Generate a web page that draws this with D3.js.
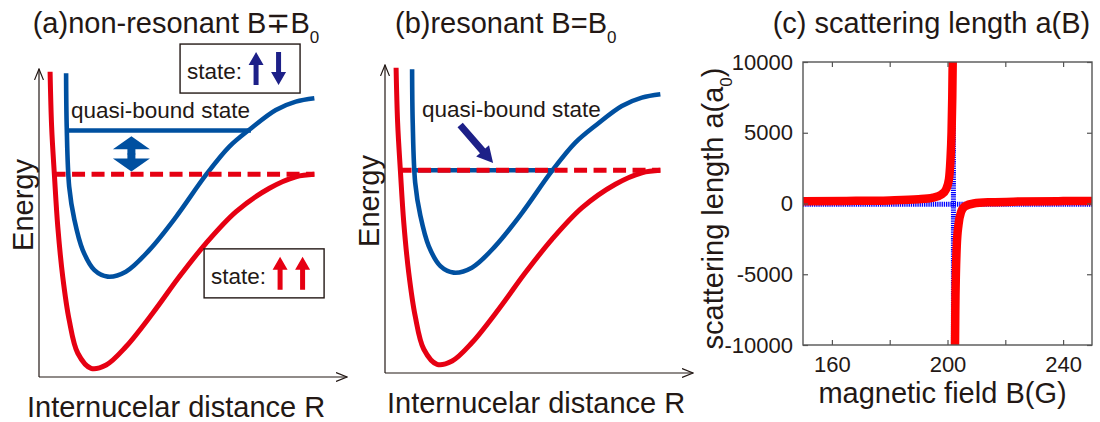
<!DOCTYPE html>
<html>
<head>
<meta charset="utf-8">
<script src="https://cdn.jsdelivr.net/npm/d3@7"></script>
<style>
  body { margin: 0; background: #fff; }
  svg { display: block; }
  text { font-family: "Liberation Sans", Arial, sans-serif; fill: #231815; }
</style>
</head>
<body>
<div id="plot"></div>
<script>
// ---- panels (a) and (b): potential curves, R and E in arbitrary units 0..10
const openR   = [0.36, 0.41, 0.50, 0.61, 0.77, 0.98, 1.26, 1.69, 2.18, 2.82, 3.69, 4.56, 5.42, 6.40, 7.48, 8.34, 8.94];
const openE   = [9.91, 8.13, 6.56, 4.88, 3.26, 1.85, 0.77, 0.28, 0.39, 0.98, 2.07, 3.26, 4.34, 5.37, 6.13, 6.50, 6.58];
const closedR = [0.88, 0.90, 0.98, 1.15, 1.42, 1.80, 2.23, 2.82, 3.58, 4.45, 5.42, 6.18, 6.88, 7.69, 8.34, 8.94];
const closedE = [9.86, 8.13, 6.18, 5.10, 4.12, 3.47, 3.26, 3.42, 4.12, 5.20, 6.56, 7.48, 8.07, 8.67, 8.94, 9.05];

const thresholdE = 6.58;          // open channel continuum (dashed)
const thresholdR = [0.44, 8.94];
const boundE = [8.0, 6.58];       // quasi-bound level in (a), (b)
const boundREnd = [6.88, 5.5];
const boundRStart = 0.93;

// ---- panel (c): scattering length a(B)
const fieldLeft  = [150, 165, 180, 190, 195, 198, 199.5, 200.5, 201.0, 201.4, 201.65, 201.8];
const aLeft      = [160, 180, 220, 300, 420, 650, 1000, 1700, 3000, 5000, 7500, 10000];
const fieldRight = [202.6, 202.7, 202.9, 203.2, 203.8, 204.7, 206, 209, 215, 225, 240, 250];
const aRight     = [-10000, -7500, -5000, -3000, -1500, -600, -200, 0, 90, 140, 170, 180];
const B0 = 202.05;
const xTicks = [160, 180, 200, 220, 240];
const xTickLabels = ["160", "", "200", "", "240"];
const yTicks = [-10000, -5000, 0, 5000, 10000];
const yTickLabels = ["-10000", "-5000", "0", "5000", "10000"];

const RED = "#e60012", BLUE = "#0050a0", NAVY = "#1d2088", INK = "#231815";

const svg = d3.select("#plot").append("svg")
  .attr("width", 1100).attr("height", 422);

const defs = svg.append("defs");
defs.append("marker")
  .attr("id", "open-arrow")
  .attr("viewBox", "0 0 12 10")
  .attr("refX", 11).attr("refY", 5)
  .attr("markerWidth", 12).attr("markerHeight", 10)
  .attr("markerUnits", "userSpaceOnUse")
  .attr("orient", "auto")
  .append("path")
    .attr("d", "M0,0.5 L11,5 L0,9.5")
    .attr("fill", "none").attr("stroke", INK).attr("stroke-width", 1.2);

// arrow pointing from (0,0) to (len,0)
function arrowShape(len, headL, headW, shaftW) {
  const b = len - headL;
  return `M0,${-shaftW / 2} L${b},${-shaftW / 2} L${b},${-headW / 2} L${len},0 L${b},${headW / 2} L${b},${shaftW / 2} L0,${shaftW / 2} Z`;
}
function drawArrow(g, x0, y0, x1, y1, headL, headW, shaftW, color) {
  const len = Math.hypot(x1 - x0, y1 - y0);
  const ang = Math.atan2(y1 - y0, x1 - x0) * 180 / Math.PI;
  g.append("path")
    .attr("d", arrowShape(len, headL, headW, shaftW))
    .attr("transform", `translate(${x0},${y0}) rotate(${ang})`)
    .attr("fill", color);
}

function stateBox(g, x, y, color, dirs) {
  g.append("rect").attr("x", x).attr("y", y).attr("width", 120).attr("height", 49)
    .attr("fill", "#fff").attr("stroke", INK).attr("stroke-width", 1.4);
  g.append("text").attr("x", x + 7).attr("y", y + 35)
    .attr("font-size", 22.5).text("state:");
  dirs.forEach((d, i) => {
    const cx = x + 76 + i * 22.5;
    if (d > 0) drawArrow(g, cx, y + 41, cx, y + 8, 13, 15, 5, color);
    else drawArrow(g, cx, y + 8, cx, y + 41, 13, 15, 5, color);
  });
}

function potentialPanel(ox, oy, idx) {
  const g = svg.append("g");
  const x = d3.scaleLinear().domain([0, 10]).range([ox, ox + 308]);
  const y = d3.scaleLinear().domain([0, 10]).range([oy, oy - 308]);

  // axes with open arrow heads
  g.append("line").attr("x1", x(0)).attr("y1", y(0)).attr("x2", x(0)).attr("y2", y(10))
    .attr("stroke", INK).attr("stroke-width", 1.2).attr("marker-end", "url(#open-arrow)");
  g.append("line").attr("x1", x(0)).attr("y1", y(0)).attr("x2", x(10)).attr("y2", y(0))
    .attr("stroke", INK).attr("stroke-width", 1.2).attr("marker-end", "url(#open-arrow)");

  const line = d3.line().x(d => x(d[0])).y(d => y(d[1])).curve(d3.curveCatmullRom.alpha(0.5));

  // quasi-bound level (blue)
  g.append("line")
    .attr("x1", x(boundRStart)).attr("x2", x(boundREnd[idx]))
    .attr("y1", y(boundE[idx])).attr("y2", y(boundE[idx]))
    .attr("stroke", BLUE).attr("stroke-width", 4.5);

  g.append("path").datum(d3.zip(closedR, closedE))
    .attr("d", line).attr("fill", "none").attr("stroke", BLUE).attr("stroke-width", 4.6);
  g.append("path").datum(d3.zip(openR, openE))
    .attr("d", line).attr("fill", "none").attr("stroke", RED).attr("stroke-width", 5);

  // threshold (dashed red)
  g.append("line")
    .attr("x1", x(thresholdR[0])).attr("x2", x(thresholdR[1]))
    .attr("y1", y(thresholdE)).attr("y2", y(thresholdE))
    .attr("stroke", RED).attr("stroke-width", 5).attr("stroke-dasharray", "13,6.5");

  g.append("text")
    .attr("transform", `translate(${x(0) - 6},${oy - 172}) rotate(-90)`)
    .attr("text-anchor", "middle").attr("font-size", 29).text("Energy");
  g.append("text").attr("x", x(0) - 12 + idx * 14).attr("y", oy + 40)
    .attr("font-size", 29).text("Internucelar distance R");
  return {g, x, y};
}

// ---- (a)
const pa = potentialPanel(39, 377, 0);
drawArrow(pa.g, pa.x(3.0), pa.y(7.22), pa.x(3.0), pa.y(7.82), 13, 37, 8, BLUE);
drawArrow(pa.g, pa.x(3.0), pa.y(7.26), pa.x(3.0), pa.y(6.67), 13, 37, 8, BLUE);
pa.g.append("text").attr("x", pa.x(1.04)).attr("y", pa.y(8.41))
  .attr("font-size", 22.5).text("quasi-bound state");
stateBox(pa.g, pa.x(4.58), pa.y(10.81), NAVY, [1, -1]);
stateBox(pa.g, pa.x(5.36), pa.y(4.16), RED, [1, 1]);
const ta = svg.append("text").attr("x", 32.7).attr("y", 33).attr("font-size", 29);
ta.append("tspan").text("(a)non-resonant B\u2213B");
ta.append("tspan").attr("font-size", 17).attr("dy", 10).text("0");

// ---- (b)
const pb = potentialPanel(385, 373, 1);
pb.g.append("text").attr("x", pb.x(1.2)).attr("y", pb.y(8.3))
  .attr("font-size", 22.5).text("quasi-bound state");
drawArrow(pb.g, pb.x(2.44), pb.y(8.05), pb.x(3.51), pb.y(6.82), 16, 17, 7, NAVY);
const tb = svg.append("text").attr("x", 395).attr("y", 33).attr("font-size", 29);
tb.append("tspan").text("(b)resonant B=B");
tb.append("tspan").attr("font-size", 17).attr("dy", 10).text("0");

// ---- (c)
const W = {left: 803, right: 1092, top: 62, bottom: 345};
const xC = d3.scaleLinear().domain([150, 250]).range([W.left, W.right]);
const yC = d3.scaleLinear().domain([-10000, 10000]).range([W.bottom, W.top]);
const gc = svg.append("g");

defs.append("clipPath").attr("id", "clip-c").append("rect")
  .attr("x", W.left).attr("y", W.top).attr("width", W.right - W.left).attr("height", W.bottom - W.top);

const plotC = gc.append("g").attr("clip-path", "url(#clip-c)");
plotC.append("line").attr("x1", xC(150)).attr("x2", xC(250)).attr("y1", yC(0) + 0.8).attr("y2", yC(0) + 0.8)
  .attr("stroke", "#0000ff").attr("stroke-width", 5).attr("stroke-dasharray", "1.3,0.9");
plotC.append("line").attr("x1", xC(B0)).attr("x2", xC(B0)).attr("y1", yC(-10000)).attr("y2", yC(10000))
  .attr("stroke", "#0000ff").attr("stroke-width", 5).attr("stroke-dasharray", "1.3,0.9");

const lineC = d3.line().x(d => xC(d[0])).y(d => yC(d[1])).curve(d3.curveMonotoneX);
[d3.zip(fieldLeft, aLeft), d3.zip(fieldRight, aRight)].forEach(s => {
  plotC.append("path").datum(s).attr("d", lineC)
    .attr("fill", "none").attr("stroke", "#ff0000").attr("stroke-width", 8.5);
});

const axisStyle = sel => {
  sel.select(".domain").remove();
  sel.selectAll(".tick line").attr("stroke", "#555").attr("stroke-width", 1.2);
  sel.selectAll(".tick text").attr("font-size", 22).attr("fill", INK)
    .attr("font-family", "\"Liberation Sans\", Arial, sans-serif");
};
gc.append("g").attr("transform", `translate(0,${W.bottom})`)
  .call(d3.axisBottom(xC).tickValues(xTicks).tickSizeInner(-5).tickSizeOuter(0).tickPadding(11.5)
    .tickFormat((d, i) => xTickLabels[i]))
  .call(axisStyle);
gc.append("g").attr("transform", `translate(0,${W.top})`)
  .call(d3.axisTop(xC).tickValues(xTicks).tickSizeInner(-5).tickSizeOuter(0).tickFormat(""))
  .call(axisStyle);
gc.append("g").attr("transform", `translate(${W.left},0)`)
  .call(d3.axisLeft(yC).tickValues(yTicks).tickSizeInner(-5).tickSizeOuter(0).tickPadding(10)
    .tickFormat((d, i) => yTickLabels[i]))
  .call(axisStyle);
gc.append("g").attr("transform", `translate(${W.right},0)`)
  .call(d3.axisRight(yC).tickValues(yTicks).tickSizeInner(-5).tickSizeOuter(0).tickFormat(""))
  .call(axisStyle);

gc.append("rect").attr("x", W.left).attr("y", W.top)
  .attr("width", W.right - W.left).attr("height", W.bottom - W.top)
  .attr("fill", "none").attr("stroke", "#555").attr("stroke-width", 1.4);

gc.append("text").attr("x", 772.7).attr("y", 33).attr("font-size", 29)
  .text("(c) scattering length a(B)");
gc.append("text").attr("x", (W.left + W.right) / 2 - 5).attr("y", 403)
  .attr("text-anchor", "middle").attr("font-size", 29).text("magnetic field B(G)");
const yl = gc.append("text")
  .attr("transform", `translate(723,${(W.top + W.bottom) / 2 + 5}) rotate(-90)`)
  .attr("text-anchor", "middle").attr("font-size", 29);
yl.append("tspan").text("scattering length a(a");
yl.append("tspan").attr("font-size", 17).attr("dy", 9).text("0");
yl.append("tspan").attr("dy", -9).text(")");
</script>
</body>
</html>
